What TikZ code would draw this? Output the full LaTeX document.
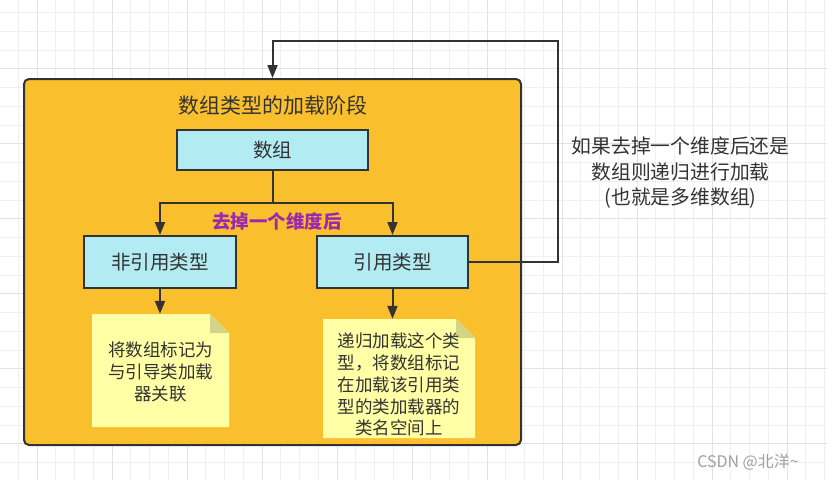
\documentclass[tikz,border=0pt]{standalone}
\usepackage{fontspec}
\setmainfont{Noto Sans CJK SC}
\usetikzlibrary{arrows.meta}
\definecolor{orangefill}{HTML}{F9BF2D}
\definecolor{cyanfill}{HTML}{B2EBF2}
\definecolor{notefill}{HTML}{FFFFA6}
\definecolor{foldfill}{HTML}{D3D38A}
\definecolor{darkline}{HTML}{333333}
\definecolor{textgray}{HTML}{333333}
\definecolor{labelpurple}{HTML}{9C27B0}
\definecolor{gridminor}{HTML}{F0F0F0}
\definecolor{gridmajor}{HTML}{E2E2E2}
\definecolor{wmgray}{HTML}{A0A0A0}
\tikzset{
  conn/.style={draw=darkline, line width=2pt, -{Triangle[length=13pt,width=10pt]}},
  plainconn/.style={draw=darkline, line width=2pt},
  bluebox/.style={draw=darkline, line width=2pt, fill=cyanfill, text=textgray,
    font=\fontsize{19.5}{24}\selectfont, inner sep=0pt},
  outerbox/.style={draw=darkline, line width=2pt, fill=orangefill, rounded corners=5pt,
    minimum width=497pt, minimum height=366pt, inner sep=0pt},
  notebox/.style={inner sep=0pt, path picture={
      \fill[notefill] (path picture bounding box.north west)
        -- ([xshift=-19pt]path picture bounding box.north east)
        -- ([yshift=-19pt]path picture bounding box.north east)
        -- (path picture bounding box.south east)
        -- (path picture bounding box.south west) -- cycle;
      \fill[foldfill] ([xshift=-19pt]path picture bounding box.north east)
        -- ([yshift=-19pt]path picture bounding box.north east)
        -- ([xshift=-19pt,yshift=-19pt]path picture bounding box.north east) -- cycle;
    }},
  notetext/.style={text=textgray, align=center, font=\fontsize{17.5}{21.8}\selectfont, inner sep=0pt},
}
\begin{document}
\begin{tikzpicture}[x=1pt,y=-1pt]
\useasboundingbox (0,0) rectangle (827,480);
\fill[white] (0,0) rectangle (827,480);
% grid
\foreach \k in {1,...,44} {
  \pgfmathsetmacro{\gx}{-0.4+18.75*\k}
  \draw[gridminor, line width=1pt] (\gx,0) -- (\gx,480);
}
\foreach \j in {0,...,24} {
  \pgfmathsetmacro{\gy}{12.7+18.75*\j}
  \draw[gridminor, line width=1pt] (0,\gy) -- (827,\gy);
}
\foreach \k in {2,6,...,42} {
  \pgfmathsetmacro{\gx}{-0.4+18.75*\k}
  \draw[gridmajor, line width=1pt] (\gx,0) -- (\gx,480);
}
\foreach \j in {3,7,...,23} {
  \pgfmathsetmacro{\gy}{12.7+18.75*\j}
  \draw[gridmajor, line width=1pt] (0,\gy) -- (827,\gy);
}

% outer container
\node[outerbox] (outer) at (272.5,262) {};
\node[text=textgray, font=\fontsize{21}{25}\selectfont, inner sep=0pt] (title) at (272.5,105) {数组类型的加载阶段};

% boxes
\node[bluebox, minimum width=191pt, minimum height=40pt] (arr) at (272.5,150) {数组};
\node[bluebox, minimum width=152pt, minimum height=52pt] (nonref) at (160,262) {非引用类型};
\node[bluebox, minimum width=151pt, minimum height=52pt] (ref) at (392.5,262) {引用类型};

% notes
\node[notebox, minimum width=137pt, minimum height=113pt] (note1) at (160.5,370.5) {};
\node[notetext] (note1t) at (160.5,372) {将数组标记为\\与引导类加载\\器关联};
\node[notebox, minimum width=152pt, minimum height=119pt] (note2) at (399,378.5) {};
\node[notetext] (note2t) at (399,384.5) {递归加载这个类\\型，将数组标记\\在加载该引用类\\型的类加载器的\\类名空间上};

% connectors
\coordinate (split) at (272.5,203);
\draw[plainconn] (arr.south) -- (split);
\draw[conn] (split) -| (nonref.north);
\draw[conn] (split) -| (ref.north);
\node[text=labelpurple, font=\bfseries\fontsize{18.5}{22}\selectfont, inner sep=0pt] (lbl) at (277,221) {去掉一个维度后};

\draw[conn] (nonref.south) -- (nonref.south |- note1.north);
\draw[conn] (ref.south) -- (ref.south |- note2.north);

\coordinate (loop) at (558,41);
\draw[conn] (ref.east) -| (loop) -| (outer.north);

% side label
\node[text=textgray, align=center, font=\fontsize{19.8}{25.5}\selectfont, inner sep=0pt] (side) at (680.5,173) {如果去掉一个维度后还是\\数组则递归进行加载\\(也就是多维数组)};

% watermark
\node[text=wmgray, font=\fontsize{16}{19}\selectfont, inner sep=0pt] (wm) at (748,462) {CSDN @北洋\textasciitilde};
\end{tikzpicture}
\end{document}
